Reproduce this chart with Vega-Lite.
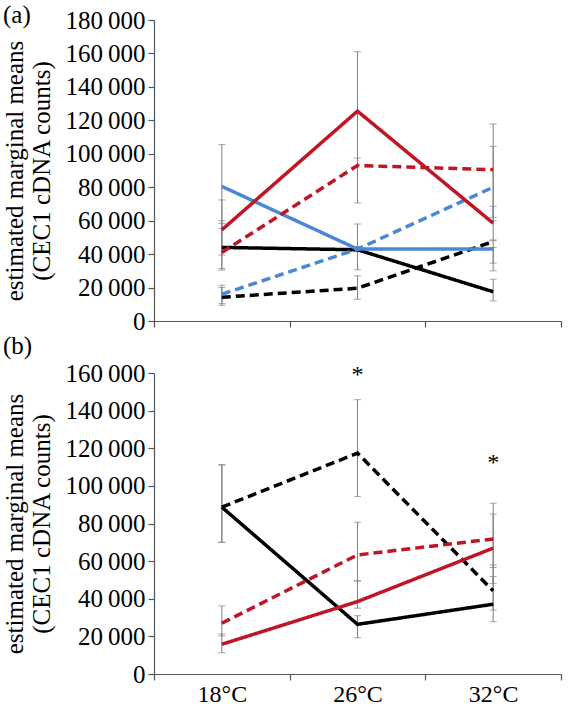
{
  "$schema": "https://vega.github.io/schema/vega-lite/v6.json",
  "padding": {"left": 2, "top": 3, "right": 5, "bottom": 2},
  "config": {
    "font": "Liberation Serif",
    "view": {"stroke": null},
    "axis": {
      "labelFont": "Liberation Serif", "labelFontSize": 25, "labelColor": "#000",
      "titleFont": "Liberation Serif", "titleFontSize": 25, "titleFontWeight": "normal", "titleColor": "#000",
      "domainColor": "#555", "tickColor": "#555", "grid": false, "tickSize": 6, "domainWidth": 1.2, "tickWidth": 1.2,
      "labelOverlap": false
    },
    "title": {"font": "Liberation Serif", "fontSize": 25, "fontWeight": "normal", "color": "#000", "anchor": "start", "frame": "bounds"}
  },
  "datasets": {
    "a": [
      {"temp": "18°C", "group": "black", "type": "solid", "mean": 44000, "low": 31400, "high": 60000},
      {"temp": "26°C", "group": "black", "type": "solid", "mean": 42600, "low": 30600, "high": 58000},
      {"temp": "32°C", "group": "black", "type": "solid", "mean": 17500, "low": 12000, "high": 25000},
      {"temp": "18°C", "group": "black", "type": "dashed", "mean": 14200, "low": 9400, "high": 20000},
      {"temp": "26°C", "group": "black", "type": "dashed", "mean": 19600, "low": 13000, "high": 27000},
      {"temp": "32°C", "group": "black", "type": "dashed", "mean": 47500, "low": 34600, "high": 48500},
      {"temp": "18°C", "group": "blue", "type": "solid", "mean": 80500, "low": 55400, "high": 105500},
      {"temp": "26°C", "group": "blue", "type": "solid", "mean": 43000, "low": 41500, "high": 44500},
      {"temp": "32°C", "group": "blue", "type": "solid", "mean": 43000, "low": 30000, "high": 44000},
      {"temp": "18°C", "group": "blue", "type": "dashed", "mean": 16000, "low": 10400, "high": 21400},
      {"temp": "26°C", "group": "blue", "type": "dashed", "mean": 43000, "low": 41500, "high": 44500},
      {"temp": "32°C", "group": "blue", "type": "dashed", "mean": 80000, "low": 60000, "high": 104400},
      {"temp": "18°C", "group": "red", "type": "solid", "mean": 54500, "low": 39400, "high": 72400},
      {"temp": "26°C", "group": "red", "type": "solid", "mean": 125500, "low": 97400, "high": 161000},
      {"temp": "32°C", "group": "red", "type": "solid", "mean": 58500, "low": 48000, "high": 68600},
      {"temp": "18°C", "group": "red", "type": "dashed", "mean": 41000, "low": 30400, "high": 58400},
      {"temp": "26°C", "group": "red", "type": "dashed", "mean": 93000, "low": 70600, "high": 124000},
      {"temp": "32°C", "group": "red", "type": "dashed", "mean": 90500, "low": 62000, "high": 117800}
    ],
    "b": [
      {"temp": "18°C", "group": "black", "type": "solid", "mean": 88700, "low": 70000, "high": 111200},
      {"temp": "26°C", "group": "black", "type": "solid", "mean": 26400, "low": 19300, "high": 31000},
      {"temp": "32°C", "group": "black", "type": "solid", "mean": 37100, "low": 34000, "high": 51800},
      {"temp": "18°C", "group": "black", "type": "dashed", "mean": 88700, "low": 70000, "high": 111200},
      {"temp": "26°C", "group": "black", "type": "dashed", "mean": 117400, "low": 94300, "high": 145800},
      {"temp": "32°C", "group": "black", "type": "dashed", "mean": 44200, "low": 27800, "high": 58000},
      {"temp": "18°C", "group": "red", "type": "solid", "mean": 15800, "low": 11300, "high": 21300},
      {"temp": "26°C", "group": "red", "type": "solid", "mean": 38500, "low": 35000, "high": 49500},
      {"temp": "32°C", "group": "red", "type": "solid", "mean": 66900, "low": 48200, "high": 85000},
      {"temp": "18°C", "group": "red", "type": "dashed", "mean": 27000, "low": 20200, "high": 36200},
      {"temp": "26°C", "group": "red", "type": "dashed", "mean": 63300, "low": 49500, "high": 80700},
      {"temp": "32°C", "group": "red", "type": "dashed", "mean": 71800, "low": 56600, "high": 90800}
    ],
    "stars": [
      {"temp": "26°C", "pos": 159000, "label": "*"},
      {"temp": "32°C", "pos": 112000, "label": "*"}
    ]
  },
  "bounds": "flush",
  "spacing": 52,
  "vconcat": [
    {
      "width": 407, "height": 301,
      "title": {"text": "(a)", "offset": -20, "dx": 0},
      "data": {"name": "a"},
      "encoding": {
        "x": {"field": "temp", "type": "nominal", "sort": ["18°C", "26°C", "32°C"],
              "scale": {"paddingInner": 0, "paddingOuter": 0},
              "axis": {"title": null, "labels": false, "tickBand": "extent"}}
      },
      "layer": [
        {"mark": {"type": "rule", "color": "#808080", "strokeWidth": 1},
         "encoding": {
           "y": {"field": "low", "type": "quantitative", "title": ["estimated marginal means", "(CEC1 cDNA counts)"],
                 "scale": {"domain": [0, 180000]},
                 "axis": {"values": [0, 20000, 40000, 60000, 80000, 100000, 120000, 140000, 160000, 180000], "labelExpr": "replace(format(datum.value, ',.0f'), ',', '\u2009')", "titlePadding": 10, "titleLineHeight": 27, "labelPadding": 3, "labelOverlap": false}},
           "y2": {"field": "high"}}},
        {"mark": {"type": "tick", "color": "#808080", "thickness": 1, "size": 7},
         "encoding": {"y": {"field": "low", "type": "quantitative", "title": ["estimated marginal means", "(CEC1 cDNA counts)"],
                 "axis": {"values": [0, 20000, 40000, 60000, 80000, 100000, 120000, 140000, 160000, 180000], "labelExpr": "replace(format(datum.value, ',.0f'), ',', '\u2009')", "titlePadding": 10, "titleLineHeight": 27, "labelPadding": 3, "labelOverlap": false}}}},
        {"mark": {"type": "tick", "color": "#808080", "thickness": 1, "size": 7},
         "encoding": {"y": {"field": "high", "type": "quantitative", "title": ["estimated marginal means", "(CEC1 cDNA counts)"],
                 "axis": {"values": [0, 20000, 40000, 60000, 80000, 100000, 120000, 140000, 160000, 180000], "labelExpr": "replace(format(datum.value, ',.0f'), ',', '\u2009')", "titlePadding": 10, "titleLineHeight": 27, "labelPadding": 3, "labelOverlap": false}}}},
        {"mark": {"type": "line", "strokeWidth": 3.5},
         "encoding": {
           "y": {"field": "mean", "type": "quantitative", "title": ["estimated marginal means", "(CEC1 cDNA counts)"],
                 "axis": {"values": [0, 20000, 40000, 60000, 80000, 100000, 120000, 140000, 160000, 180000], "labelExpr": "replace(format(datum.value, ',.0f'), ',', '\u2009')", "titlePadding": 10, "titleLineHeight": 27, "labelPadding": 3, "labelOverlap": false}},
           "color": {"field": "group", "type": "nominal", "scale": {"domain": ["black", "blue", "red"], "range": ["#000000", "#4A88D4", "#BE1622"]}, "legend": null},
           "strokeDash": {"field": "type", "type": "nominal", "scale": {"domain": ["solid", "dashed"], "range": [[1, 0], [9, 5]]}, "legend": null}}}
      ]
    },
    {
      "width": 407, "height": 301,
      "title": {"text": "(b)", "offset": 2, "dx": 0},
      "data": {"name": "b"},
      "encoding": {
        "x": {"field": "temp", "type": "nominal", "sort": ["18°C", "26°C", "32°C"],
              "scale": {"paddingInner": 0, "paddingOuter": 0},
              "axis": {"title": null, "labelAngle": 0, "tickBand": "extent", "labelPadding": 2, "labelFontSize": 24}}
      },
      "layer": [
        {"mark": {"type": "rule", "color": "#808080", "strokeWidth": 1},
         "encoding": {
           "y": {"field": "low", "type": "quantitative", "title": ["estimated marginal means", "(CEC1 cDNA counts)"],
                 "scale": {"domain": [0, 160000]},
                 "axis": {"values": [0, 20000, 40000, 60000, 80000, 100000, 120000, 140000, 160000], "labelExpr": "replace(format(datum.value, ',.0f'), ',', '\u2009')", "titlePadding": 10, "titleLineHeight": 27, "labelPadding": 3, "labelOverlap": false}},
           "y2": {"field": "high"}}},
        {"mark": {"type": "tick", "color": "#808080", "thickness": 1, "size": 7},
         "encoding": {"y": {"field": "low", "type": "quantitative", "title": ["estimated marginal means", "(CEC1 cDNA counts)"],
                 "axis": {"values": [0, 20000, 40000, 60000, 80000, 100000, 120000, 140000, 160000], "labelExpr": "replace(format(datum.value, ',.0f'), ',', '\u2009')", "titlePadding": 10, "titleLineHeight": 27, "labelPadding": 3, "labelOverlap": false}}}},
        {"mark": {"type": "tick", "color": "#808080", "thickness": 1, "size": 7},
         "encoding": {"y": {"field": "high", "type": "quantitative", "title": ["estimated marginal means", "(CEC1 cDNA counts)"],
                 "axis": {"values": [0, 20000, 40000, 60000, 80000, 100000, 120000, 140000, 160000], "labelExpr": "replace(format(datum.value, ',.0f'), ',', '\u2009')", "titlePadding": 10, "titleLineHeight": 27, "labelPadding": 3, "labelOverlap": false}}}},
        {"mark": {"type": "line", "strokeWidth": 3.5},
         "encoding": {
           "y": {"field": "mean", "type": "quantitative", "title": ["estimated marginal means", "(CEC1 cDNA counts)"],
                 "axis": {"values": [0, 20000, 40000, 60000, 80000, 100000, 120000, 140000, 160000], "labelExpr": "replace(format(datum.value, ',.0f'), ',', '\u2009')", "titlePadding": 10, "titleLineHeight": 27, "labelPadding": 3, "labelOverlap": false}},
           "color": {"field": "group", "type": "nominal", "scale": {"domain": ["black", "red"], "range": ["#000000", "#BE1622"]}, "legend": null},
           "strokeDash": {"field": "type", "type": "nominal", "scale": {"domain": ["solid", "dashed"], "range": [[1, 0], [9, 5]]}, "legend": null}}},
        {"data": {"name": "stars"},
         "mark": {"type": "text", "fontSize": 24, "baseline": "middle", "clip": false, "color": "#000"},
         "encoding": {
           "y": {"field": "pos", "type": "quantitative", "title": ["estimated marginal means", "(CEC1 cDNA counts)"],
                 "axis": {"values": [0, 20000, 40000, 60000, 80000, 100000, 120000, 140000, 160000], "labelExpr": "replace(format(datum.value, ',.0f'), ',', '\u2009')", "titlePadding": 10, "titleLineHeight": 27, "labelPadding": 3, "labelOverlap": false}},
           "text": {"field": "label"}}}
      ]
    }
  ]
}
